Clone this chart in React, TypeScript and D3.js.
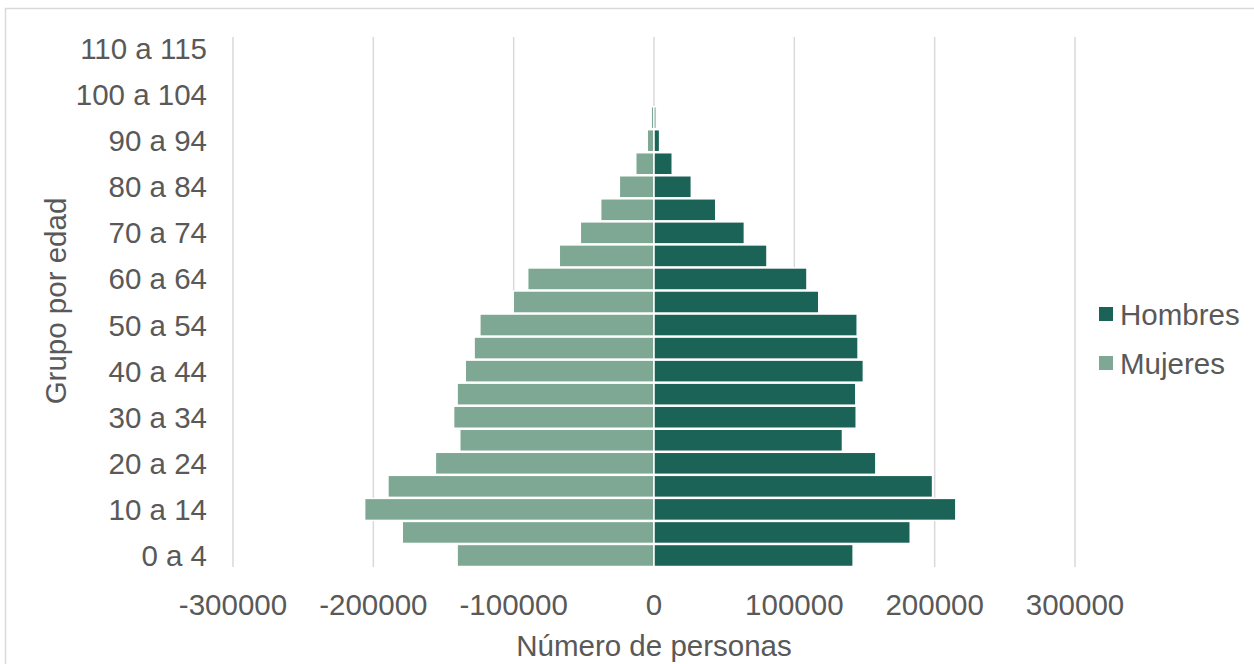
import React from "react";
import * as d3 from "d3";

const categories = [
  "0 a 4", "5 a 9", "10 a 14", "15 a 19", "20 a 24", "25 a 29", "30 a 34", "35 a 39",
  "40 a 44", "45 a 49", "50 a 54", "55 a 59", "60 a 64", "65 a 69", "70 a 74", "75 a 79",
  "80 a 84", "85 a 89", "90 a 94", "95 a 99", "100 a 104", "105 a 109", "110 a 115",
];
const hombres = [
  141900, 182600, 215100, 198500, 158100, 134300, 144100, 143800, 149200, 145400, 144800, 117400,
  109000, 80500, 64400, 44000, 26600, 13000, 4000, 1500, 0, 0, 0,
];
const mujeres = [
  140300, 179400, 206200, 189600, 155800, 138400, 142800, 140300, 134500, 128200, 124100, 100300,
  90000, 67500, 52500, 38000, 24700, 13000, 4800, 2000, 0, 0, 0,
];
const xTicks = [-300000, -200000, -100000, 0, 100000, 200000, 300000];
const seriesNames = ["Hombres", "Mujeres"];
const colors = ["#1c6357", "#7ea893"];

const W = 1254;
const H = 664;
const FONT = "'Liberation Sans', Arial, sans-serif";
const TXT = "#595959";
const FS = 29.5;

export default function App() {
  const x = d3.scaleLinear().domain([-300000, 300000]).range([233, 1075]);
  const y = d3
    .scaleBand<string>()
    .domain([...categories].reverse())
    .range([37, 567])
    .padding(0);
  const bw = y.bandwidth();

  return (
    <svg
      width={W}
      height={H}
      style={{ position: "absolute", left: 0, top: 0, background: "#fff" }}
      fontFamily={FONT}
    >
      <rect x={5.5} y={8.5} width={W + 10} height={H + 10} fill="#fff" stroke="#d9d9d9" strokeWidth={1.5} />
      {xTicks.map((t) => (
        <line key={"g" + t} x1={x(t)} x2={x(t)} y1={37} y2={567} stroke="#d9d9d9" strokeWidth={1.5} />
      ))}
      {categories.map((c, i) => (
        <g key={c}>
          {mujeres[i] > 0 && (
            <rect
              x={x(-mujeres[i])}
              y={(y(c) as number) + 0.5}
              width={x(0) - x(-mujeres[i])}
              height={bw - 1}
              fill={colors[1]}
              stroke="#fff"
              strokeWidth={1.5}
            />
          )}
          {hombres[i] > 0 && (
            <rect
              x={x(0)}
              y={(y(c) as number) + 0.5}
              width={x(hombres[i]) - x(0)}
              height={bw - 1}
              fill={colors[0]}
              stroke="#fff"
              strokeWidth={1.5}
            />
          )}
        </g>
      ))}
      {categories.map((c, i) =>
        i % 2 === 0 ? (
          <text
            key={"l" + c}
            x={207}
            y={(y(c) as number) + bw / 2}
            textAnchor="end"
            dominantBaseline="central"
            fontSize={FS}
            fill={TXT}
          >
            {c}
          </text>
        ) : null
      )}
      {xTicks.map((t) => (
        <text
          key={"t" + t}
          x={x(t)}
          y={604}
          textAnchor="middle"
          dominantBaseline="central"
          fontSize={FS}
          fill={TXT}
        >
          {t}
        </text>
      ))}
      <text x={654} y={645} textAnchor="middle" dominantBaseline="central" fontSize={FS} fill={TXT}>
        Número de personas
      </text>
      <text
        transform="translate(55,301) rotate(-90)"
        textAnchor="middle"
        dominantBaseline="central"
        fontSize={FS}
        fill={TXT}
      >
        Grupo por edad
      </text>
      {seriesNames.map((s, i) => (
        <g key={s} transform={`translate(1099,${314 + i * 49})`}>
          <rect x={0} y={-7} width={14} height={14} fill={colors[i]} />
          <text x={21} y={0} dominantBaseline="central" fontSize={FS} fill={TXT}>
            {s}
          </text>
        </g>
      ))}
    </svg>
  );
}
